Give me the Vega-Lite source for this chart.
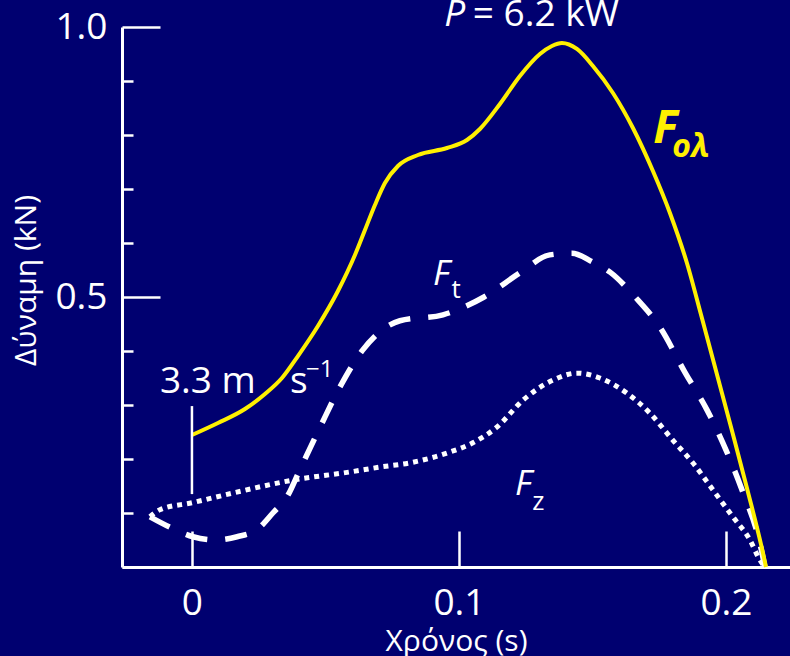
{
  "$schema": "https://vega.github.io/schema/vega-lite/v6.json",
  "width": 668,
  "height": 540,
  "autosize": {"type": "none"},
  "padding": {"left": 122, "top": 27, "right": 0, "bottom": 89},
  "background": "#000070",
  "config": {"view": {"stroke": null}, "font": "Open Sans"},
  "data": {"values": [
    {"series": "Fol", "t": 0, "f": 0.2444},
    {"series": "Fol", "t": 0.00974, "f": 0.2667},
    {"series": "Fol", "t": 0.01985, "f": 0.2926},
    {"series": "Fol", "t": 0.02734, "f": 0.3204},
    {"series": "Fol", "t": 0.03371, "f": 0.35},
    {"series": "Fol", "t": 0.0397, "f": 0.3907},
    {"series": "Fol", "t": 0.04719, "f": 0.4463},
    {"series": "Fol", "t": 0.05468, "f": 0.5111},
    {"series": "Fol", "t": 0.06105, "f": 0.5778},
    {"series": "Fol", "t": 0.0648, "f": 0.6241},
    {"series": "Fol", "t": 0.06854, "f": 0.6704},
    {"series": "Fol", "t": 0.07228, "f": 0.7111},
    {"series": "Fol", "t": 0.07715, "f": 0.7426},
    {"series": "Fol", "t": 0.08464, "f": 0.763},
    {"series": "Fol", "t": 0.09551, "f": 0.7759},
    {"series": "Fol", "t": 0.103, "f": 0.7907},
    {"series": "Fol", "t": 0.10787, "f": 0.8111},
    {"series": "Fol", "t": 0.11536, "f": 0.8574},
    {"series": "Fol", "t": 0.12285, "f": 0.9093},
    {"series": "Fol", "t": 0.13034, "f": 0.95},
    {"series": "Fol", "t": 0.13483, "f": 0.9648},
    {"series": "Fol", "t": 0.13858, "f": 0.9704},
    {"series": "Fol", "t": 0.14419, "f": 0.9593},
    {"series": "Fol", "t": 0.15019, "f": 0.9278},
    {"series": "Fol", "t": 0.15768, "f": 0.8778},
    {"series": "Fol", "t": 0.16517, "f": 0.813},
    {"series": "Fol", "t": 0.17266, "f": 0.7333},
    {"series": "Fol", "t": 0.17903, "f": 0.6556},
    {"series": "Fol", "t": 0.18539, "f": 0.563},
    {"series": "Fol", "t": 0.19101, "f": 0.4611},
    {"series": "Fol", "t": 0.2015, "f": 0.2667},
    {"series": "Fol", "t": 0.20787, "f": 0.1463},
    {"series": "Fol", "t": 0.21461, "f": 0.0093},
    {"series": "Fol", "t": 0.215, "f": 0},
    {"series": "Ft", "t": -0.0157, "f": 0.093},
    {"series": "Ft", "t": -0.0075, "f": 0.072},
    {"series": "Ft", "t": 0.0004, "f": 0.056},
    {"series": "Ft", "t": 0.0086, "f": 0.05},
    {"series": "Ft", "t": 0.0169, "f": 0.056},
    {"series": "Ft", "t": 0.0243, "f": 0.069},
    {"series": "Ft", "t": 0.0303, "f": 0.1},
    {"series": "Ft", "t": 0.0356, "f": 0.13},
    {"series": "Ft", "t": 0.0404, "f": 0.18},
    {"series": "Ft", "t": 0.048, "f": 0.259},
    {"series": "Ft", "t": 0.0554, "f": 0.333},
    {"series": "Ft", "t": 0.064, "f": 0.402},
    {"series": "Ft", "t": 0.0779, "f": 0.456},
    {"series": "Ft", "t": 0.094, "f": 0.467},
    {"series": "Ft", "t": 0.1094, "f": 0.5},
    {"series": "Ft", "t": 0.1232, "f": 0.546},
    {"series": "Ft", "t": 0.134, "f": 0.578},
    {"series": "Ft", "t": 0.1423, "f": 0.581},
    {"series": "Ft", "t": 0.15, "f": 0.565},
    {"series": "Ft", "t": 0.1566, "f": 0.546},
    {"series": "Ft", "t": 0.166, "f": 0.5},
    {"series": "Ft", "t": 0.1753, "f": 0.444},
    {"series": "Ft", "t": 0.1846, "f": 0.361},
    {"series": "Ft", "t": 0.1929, "f": 0.291},
    {"series": "Ft", "t": 0.2, "f": 0.217},
    {"series": "Ft", "t": 0.206, "f": 0.143},
    {"series": "Ft", "t": 0.2127, "f": 0.044},
    {"series": "Ft", "t": 0.2146, "f": 0},
    {"series": "Fz", "t": -0.0157, "f": 0.093},
    {"series": "Fz", "t": -0.012, "f": 0.106},
    {"series": "Fz", "t": 0.0, "f": 0.119},
    {"series": "Fz", "t": 0.0154, "f": 0.137},
    {"series": "Fz", "t": 0.0378, "f": 0.161},
    {"series": "Fz", "t": 0.0592, "f": 0.176},
    {"series": "Fz", "t": 0.0704, "f": 0.185},
    {"series": "Fz", "t": 0.0828, "f": 0.194},
    {"series": "Fz", "t": 0.0955, "f": 0.211},
    {"series": "Fz", "t": 0.1052, "f": 0.23},
    {"series": "Fz", "t": 0.1142, "f": 0.259},
    {"series": "Fz", "t": 0.124, "f": 0.309},
    {"series": "Fz", "t": 0.1352, "f": 0.346},
    {"series": "Fz", "t": 0.1442, "f": 0.359},
    {"series": "Fz", "t": 0.1528, "f": 0.35},
    {"series": "Fz", "t": 0.1629, "f": 0.322},
    {"series": "Fz", "t": 0.1715, "f": 0.285},
    {"series": "Fz", "t": 0.1801, "f": 0.235},
    {"series": "Fz", "t": 0.1876, "f": 0.193},
    {"series": "Fz", "t": 0.1951, "f": 0.143},
    {"series": "Fz", "t": 0.2026, "f": 0.093},
    {"series": "Fz", "t": 0.209, "f": 0.05},
    {"series": "Fz", "t": 0.2127, "f": 0.013},
    {"series": "Fz", "t": 0.2146, "f": 0}
  ]},
  "encoding": {
    "x": {
      "field": "t", "type": "quantitative",
      "scale": {"domain": [-0.0262, 0.224], "nice": false, "zero": false},
      "axis": {
        "values": [0, 0.1, 0.2],
        "labelExpr": "datum.value === 0 ? '0' : format(datum.value, '.1f')",
        "grid": false,
        "domainColor": "#ffffff", "domainWidth": 3,
        "tickColor": "#ffffff", "tickWidth": 2.5, "tickSize": -36,
        "labelColor": "#ffffff", "labelFontSize": 37, "labelPadding": 54,
        "labelFlush": false, "labelOverlap": false,
        "title": "Χρόνος (s)", "titleColor": "#ffffff", "titleFontSize": 30,
        "titleFontWeight": "normal", "titleX": 334, "titleY": 83,
        "titleBaseline": "alphabetic", "titleAlign": "center"
      }
    },
    "y": {
      "field": "f", "type": "quantitative",
      "scale": {"domain": [0, 1], "nice": false},
      "axis": {
        "values": [0, 0.1, 0.2, 0.3, 0.4, 0.5, 0.6, 0.7, 0.8, 0.9, 1],
        "labelExpr": "datum.value == 0.5 || datum.value == 1 ? format(datum.value, '.1f') : ''",
        "grid": false,
        "domainColor": "#ffffff", "domainWidth": 3,
        "tickColor": "#ffffff", "tickWidth": 2.5,
        "tickSize": {"condition": {"test": "datum.value == 0.5 || datum.value == 1", "value": -38}, "value": -11},
        "labelColor": "#ffffff", "labelFontSize": 37, "labelPadding": 53,
        "labelFlush": false, "labelOverlap": false, "labelBaseline": "middle",
        "title": "Δύναμη (kN)", "titleColor": "#ffffff", "titleFontSize": 30,
        "titleFontWeight": "normal", "titleX": -87, "titleY": 253, "titleAngle": 270,
        "titleBaseline": "alphabetic", "titleAlign": "center"
      }
    }
  },
  "layer": [
    {
      "transform": [{"filter": "datum.series == 'Fz'"}],
      "mark": {"type": "line", "color": "#ffffff", "strokeWidth": 5, "strokeDash": [5, 5], "interpolate": "monotone"}
    },
    {
      "transform": [{"filter": "datum.series == 'Ft'"}],
      "mark": {"type": "line", "color": "#ffffff", "strokeWidth": 5.5, "strokeDash": [22, 18], "interpolate": "monotone"}
    },
    {
      "transform": [{"filter": "datum.series == 'Fol'"}],
      "mark": {"type": "line", "color": "#fff000", "strokeWidth": 4, "interpolate": "monotone"}
    },
    {
      "data": {"values": [{"t": 0, "f": 0.135, "f2": 0.298}]},
      "mark": {"type": "rule", "color": "#ffffff", "strokeWidth": 2.5},
      "encoding": {"y2": {"field": "f2"}}
    },
    {
      "data": {"values": [{"t": 0.0945, "f": 1.002, "label": "P"}]},
      "mark": {"type": "text", "align": "left", "baseline": "alphabetic", "fontSize": 37, "fontStyle": "italic", "color": "#ffffff"},
      "encoding": {"text": {"field": "label"}}
    },
    {
      "data": {"values": [
        {"t": 0.1052, "f": 1.002, "label": "= 6.2 kW"},
        {"t": -0.012, "f": 0.3222, "label": "3.3 m"},
        {"t": 0.0367, "f": 0.3222, "label": "s"}
      ]},
      "mark": {"type": "text", "align": "left", "baseline": "alphabetic", "fontSize": 37, "color": "#ffffff"},
      "encoding": {"text": {"field": "label"}}
    },
    {
      "data": {"values": [{"t": 0.0427, "f": 0.352, "label": "−1"}]},
      "mark": {"type": "text", "align": "left", "baseline": "alphabetic", "fontSize": 24, "color": "#ffffff"},
      "encoding": {"text": {"field": "label"}}
    },
    {
      "data": {"values": [
        {"t": 0.0903, "f": 0.522, "label": "F"},
        {"t": 0.121, "f": 0.1333, "label": "F"}
      ]},
      "mark": {"type": "text", "align": "left", "baseline": "alphabetic", "fontSize": 35, "fontStyle": "italic", "color": "#ffffff"},
      "encoding": {"text": {"field": "label"}}
    },
    {
      "data": {"values": [
        {"t": 0.0972, "f": 0.498, "label": "t"},
        {"t": 0.1275, "f": 0.1056, "label": "z"}
      ]},
      "mark": {"type": "text", "align": "left", "baseline": "alphabetic", "fontSize": 26, "color": "#ffffff"},
      "encoding": {"text": {"field": "label"}}
    },
    {
      "data": {"values": [{"t": 0.1728, "f": 0.785, "label": "F"}]},
      "mark": {"type": "text", "align": "left", "baseline": "alphabetic", "fontSize": 46, "fontStyle": "italic", "fontWeight": "bold", "color": "#fff000"},
      "encoding": {"text": {"field": "label"}}
    },
    {
      "data": {"values": [{"t": 0.1799, "f": 0.759, "label": "ολ"}]},
      "mark": {"type": "text", "align": "left", "baseline": "alphabetic", "fontSize": 32, "fontStyle": "italic", "fontWeight": "bold", "color": "#fff000"},
      "encoding": {"text": {"field": "label"}}
    }
  ]
}
